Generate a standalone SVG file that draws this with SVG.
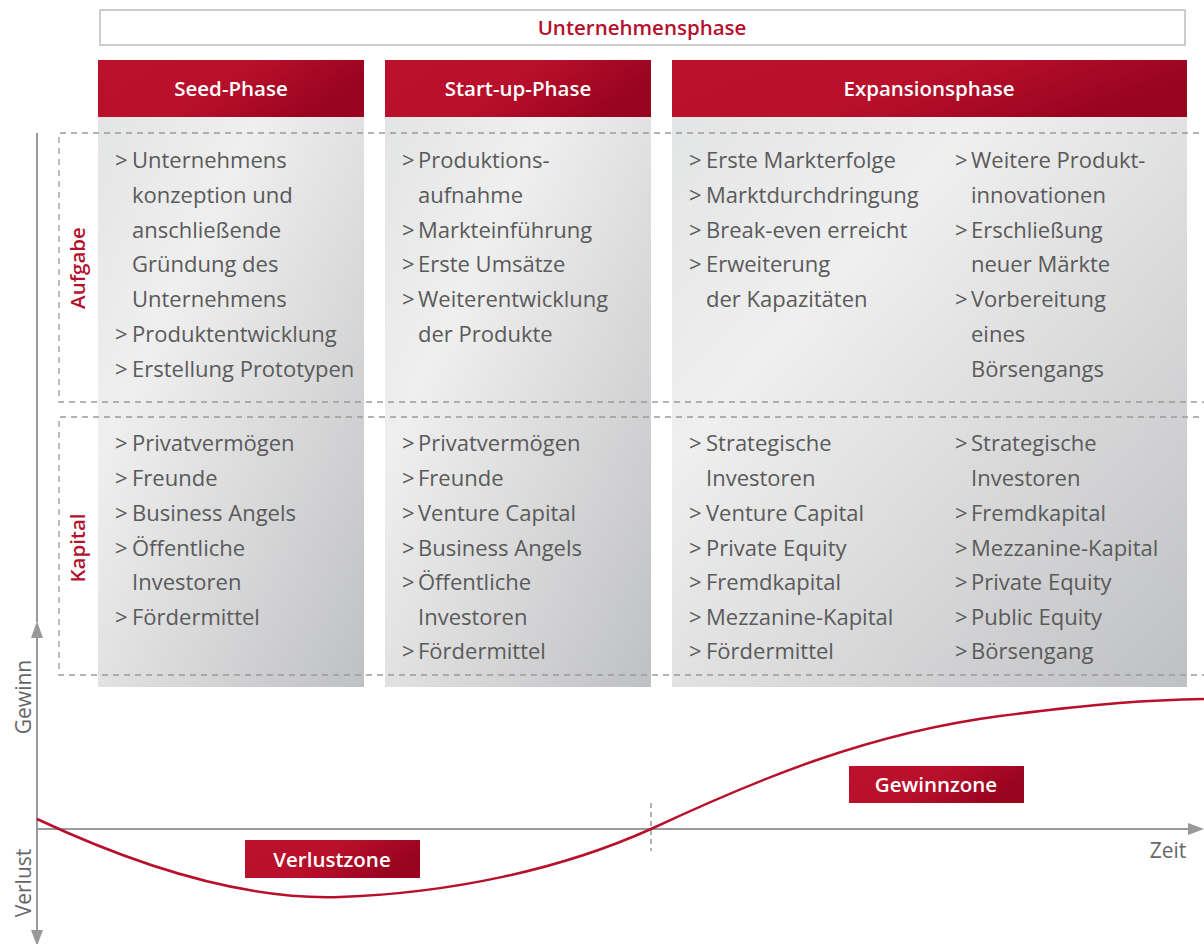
<svg xmlns="http://www.w3.org/2000/svg" width="1204" height="944" viewBox="0 0 1204 944">
<defs>
<linearGradient id="red" x1="0" y1="0" x2="1" y2="0.3">
<stop offset="0" stop-color="#bb112c"/>
<stop offset="0.55" stop-color="#b80f2b"/>
<stop offset="1" stop-color="#990420"/>
</linearGradient>
<linearGradient id="gray" x1="0" y1="0" x2="1" y2="1">
<stop offset="0" stop-color="#e3e4e5"/>
<stop offset="0.3" stop-color="#efefef"/>
<stop offset="1" stop-color="#bfc0c2"/>
</linearGradient>
</defs>
<style>
.hdr{font-family:"Open Sans","Noto Sans",sans-serif;font-weight:600;font-size:20.5px;fill:#fff;text-anchor:middle}
.title{font-family:"Open Sans","Noto Sans",sans-serif;font-weight:600;font-size:20.5px;fill:#b5102c;text-anchor:middle}
.t{font-family:"Open Sans","Noto Sans",sans-serif;font-size:22px;fill:#5a5a5a}
.side{font-family:"Open Sans","Noto Sans",sans-serif;font-weight:600;font-size:20.5px;fill:#b5102c;text-anchor:middle}
.ax{font-family:"Open Sans","Noto Sans",sans-serif;font-size:21px;fill:#666;text-anchor:middle}
.col{fill:url(#gray)}
.redbox{fill:url(#red)}
.dash{fill:none;stroke:#9a9a9a;stroke-width:1.3;stroke-dasharray:6 5}
.axis{stroke:#999;stroke-width:2;fill:none}
</style>

<g id="title">
<rect x="100" y="10" width="1085" height="35" fill="#fff" stroke="#bdbdbd" stroke-width="1.5"/>
<text class="title" x="642" y="35">Unternehmensphase</text>
</g>

<g id="seed">
<rect class="col" x="98" y="117" width="266" height="570"/>
<rect class="redbox" x="98" y="60" width="266" height="57"/>
<text class="hdr" x="231" y="96">Seed-Phase</text>
<text class="t"><tspan x="115" y="168">&gt;</tspan><tspan x="115" y="342">&gt;</tspan><tspan x="115" y="377">&gt;</tspan></text>
<text class="t"><tspan x="132" y="168">Unternehmens</tspan><tspan x="132" y="203">konzeption und</tspan><tspan x="132" y="238">anschließende</tspan><tspan x="132" y="272">Gründung des</tspan><tspan x="132" y="307">Unternehmens</tspan><tspan x="132" y="342">Produktentwicklung</tspan><tspan x="132" y="377">Erstellung Prototypen</tspan></text>
<text class="t"><tspan x="115" y="451">&gt;</tspan><tspan x="115" y="486">&gt;</tspan><tspan x="115" y="521">&gt;</tspan><tspan x="115" y="556">&gt;</tspan><tspan x="115" y="625">&gt;</tspan></text>
<text class="t"><tspan x="132" y="451">Privatvermögen</tspan><tspan x="132" y="486">Freunde</tspan><tspan x="132" y="521">Business Angels</tspan><tspan x="132" y="556">Öffentliche</tspan><tspan x="132" y="590">Investoren</tspan><tspan x="132" y="625">Fördermittel</tspan></text>
</g>

<g id="startup">
<rect class="col" x="385" y="117" width="266" height="570"/>
<rect class="redbox" x="385" y="60" width="266" height="57"/>
<text class="hdr" x="518" y="96">Start-up-Phase</text>
<text class="t"><tspan x="402" y="168">&gt;</tspan><tspan x="402" y="238">&gt;</tspan><tspan x="402" y="272">&gt;</tspan><tspan x="402" y="307">&gt;</tspan></text>
<text class="t"><tspan x="418" y="168">Produktions-</tspan><tspan x="418" y="203">aufnahme</tspan><tspan x="418" y="238">Markteinführung</tspan><tspan x="418" y="272">Erste Umsätze</tspan><tspan x="418" y="307">Weiterentwicklung</tspan><tspan x="418" y="342">der Produkte</tspan></text>
<text class="t"><tspan x="402" y="451">&gt;</tspan><tspan x="402" y="486">&gt;</tspan><tspan x="402" y="521">&gt;</tspan><tspan x="402" y="556">&gt;</tspan><tspan x="402" y="590">&gt;</tspan><tspan x="402" y="659">&gt;</tspan></text>
<text class="t"><tspan x="418" y="451">Privatvermögen</tspan><tspan x="418" y="486">Freunde</tspan><tspan x="418" y="521">Venture Capital</tspan><tspan x="418" y="556">Business Angels</tspan><tspan x="418" y="590">Öffentliche</tspan><tspan x="418" y="625">Investoren</tspan><tspan x="418" y="659">Fördermittel</tspan></text>
</g>

<g id="expansion">
<rect class="col" x="672" y="117" width="515" height="570"/>
<rect class="redbox" x="672" y="60" width="515" height="57"/>
<text class="hdr" x="929" y="96">Expansionsphase</text>
<text class="t"><tspan x="689" y="168">&gt;</tspan><tspan x="689" y="203">&gt;</tspan><tspan x="689" y="238">&gt;</tspan><tspan x="689" y="272">&gt;</tspan></text>
<text class="t"><tspan x="706" y="168">Erste Markterfolge</tspan><tspan x="706" y="203">Marktdurchdringung</tspan><tspan x="706" y="238">Break-even erreicht</tspan><tspan x="706" y="272">Erweiterung</tspan><tspan x="706" y="307">der Kapazitäten</tspan></text>
<text class="t"><tspan x="955" y="168">&gt;</tspan><tspan x="955" y="238">&gt;</tspan><tspan x="955" y="307">&gt;</tspan></text>
<text class="t"><tspan x="971" y="168">Weitere Produkt-</tspan><tspan x="971" y="203">innovationen</tspan><tspan x="971" y="238">Erschließung</tspan><tspan x="971" y="272">neuer Märkte</tspan><tspan x="971" y="307">Vorbereitung</tspan><tspan x="971" y="342">eines</tspan><tspan x="971" y="377">Börsengangs</tspan></text>
<text class="t"><tspan x="689" y="451">&gt;</tspan><tspan x="689" y="521">&gt;</tspan><tspan x="689" y="556">&gt;</tspan><tspan x="689" y="590">&gt;</tspan><tspan x="689" y="625">&gt;</tspan><tspan x="689" y="659">&gt;</tspan></text>
<text class="t"><tspan x="706" y="451">Strategische</tspan><tspan x="706" y="486">Investoren</tspan><tspan x="706" y="521">Venture Capital</tspan><tspan x="706" y="556">Private Equity</tspan><tspan x="706" y="590">Fremdkapital</tspan><tspan x="706" y="625">Mezzanine-Kapital</tspan><tspan x="706" y="659">Fördermittel</tspan></text>
<text class="t"><tspan x="955" y="451">&gt;</tspan><tspan x="955" y="521">&gt;</tspan><tspan x="955" y="556">&gt;</tspan><tspan x="955" y="590">&gt;</tspan><tspan x="955" y="625">&gt;</tspan><tspan x="955" y="659">&gt;</tspan></text>
<text class="t"><tspan x="971" y="451">Strategische</tspan><tspan x="971" y="486">Investoren</tspan><tspan x="971" y="521">Fremdkapital</tspan><tspan x="971" y="556">Mezzanine-Kapital</tspan><tspan x="971" y="590">Private Equity</tspan><tspan x="971" y="625">Public Equity</tspan><tspan x="971" y="659">Börsengang</tspan></text>
</g>

<g id="aufgabe">
<path class="dash" d="M1210,133 H59 V402 H1210"/>
<text class="side" transform="translate(85,268) rotate(-90)">Aufgabe</text>
</g>

<g id="kapital">
<path class="dash" d="M1210,417 H59 V675 H1210"/>
<text class="side" transform="translate(85,548) rotate(-90)">Kapital</text>
</g>

<g id="connectors">
<line class="axis" x1="37" y1="133" x2="37" y2="622"/>
<path d="M37,621 L31,638 L43,638 Z" fill="#999"/>
<line class="axis" x1="37" y1="638" x2="37" y2="944"/>
<path d="M37,946 L31,930 L43,930 Z" fill="#999"/>
<line class="axis" x1="37" y1="829" x2="1190" y2="829"/>
<path d="M1204,829 L1188,823 L1188,835 Z" fill="#999"/>
<line x1="651" y1="803" x2="651" y2="851" stroke="#999" stroke-width="1.5" stroke-dasharray="5 4"/>
<path d="M37,819 C150,872 250,900 340,897 C450,893 560,870 651,829 C760,778 870,733 1000,716 C1100,703 1150,700 1204,699" fill="none" stroke="#b80f2b" stroke-width="2.5"/>
</g>

<g id="axislabels">
<text class="ax" transform="translate(31,697) rotate(-90)">Gewinn</text>
<text class="ax" transform="translate(31,883) rotate(-90)">Verlust</text>
<text class="ax" x="1168" y="858">Zeit</text>
</g>

<g id="verlustzone">
<rect class="redbox" x="245" y="840" width="175" height="38"/>
<text class="hdr" x="332" y="867">Verlustzone</text>
</g>

<g id="gewinnzone">
<rect class="redbox" x="849" y="766" width="175" height="37"/>
<text class="hdr" x="936" y="792">Gewinnzone</text>
</g>
</svg>
